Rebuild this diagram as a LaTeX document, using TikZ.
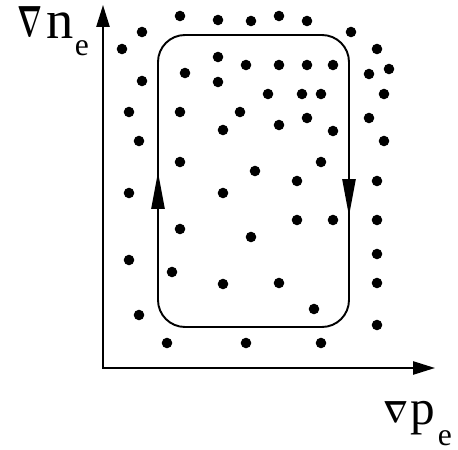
\documentclass[tikz,border=0pt]{standalone}
\usepackage{fontspec}
\setmainfont{Liberation Serif}
\usetikzlibrary{arrows.meta}

\begin{document}
\begin{tikzpicture}[x=0.02cm,y=-0.02cm,line width=1.1pt]
\useasboundingbox (0,0) rectangle (458,450);
% axes
\draw[{Triangle[length=12.5pt,width=7.5pt]}-{Triangle[length=12.5pt,width=7.5pt]}] (103,5) -- (103,368) -- (435,368);
\node[anchor=south west,inner sep=0] (gradn) at (17,37) {\resizebox{14.2pt}{17pt}{\boldmath$\nabla$}};
\node[anchor=base west,inner sep=0,font=\fontsize{31}{31}\selectfont] (nlab) at (46,38) {n};
\node[anchor=base west,inner sep=0,font=\fontsize{18}{18}\selectfont] (nsub) at (74,55) {e};
\node[anchor=south west,inner sep=0] (gradp) at (383,423) {\resizebox{14.2pt}{11.9pt}{\boldmath$\nabla$}};
\node[anchor=base west,inner sep=0,font=\fontsize{28}{28}\selectfont] (plab) at (410,425) {p};
\node[anchor=base west,inner sep=0,font=\fontsize{18}{18}\selectfont] (psub) at (437,446) {e};
% cycle
\draw[rounded corners=0.54cm] (158,35) rectangle (349,327);
\draw[-{Triangle[length=21pt,width=7.5pt]}] (158,211) -- (158,172);
\draw[-{Triangle[length=21pt,width=7.5pt]}] (349,175) -- (349,216);
% dots
\foreach \p in {(180,16),(218,20),(251,21),(279,16),(307,21),(351,32),(377,49),
  (142,32),(122,49),(218,57),(185,73),(218,82),(246,65),(279,65),(307,65),(333,65),
  (369,74),(389,69),(142,81),(268,94),(302,94),(321,94),(384,94),
  (129,112),(180,112),(240,112),(279,125),(307,118),(333,131),(369,118),(384,141),(223,130),
  (139,141),(180,162),(255,171),(297,181),(321,162),(377,181),(129,193),(223,193),
  (180,229),(297,220),(333,220),(377,220),(251,237),
  (129,260),(172,272),(223,284),(279,283),(377,254),(377,283),
  (139,315),(314,309),(377,325),(167,343),(246,343),(321,343)}
  \fill \p circle[radius=3pt];
\end{tikzpicture}
\end{document}
